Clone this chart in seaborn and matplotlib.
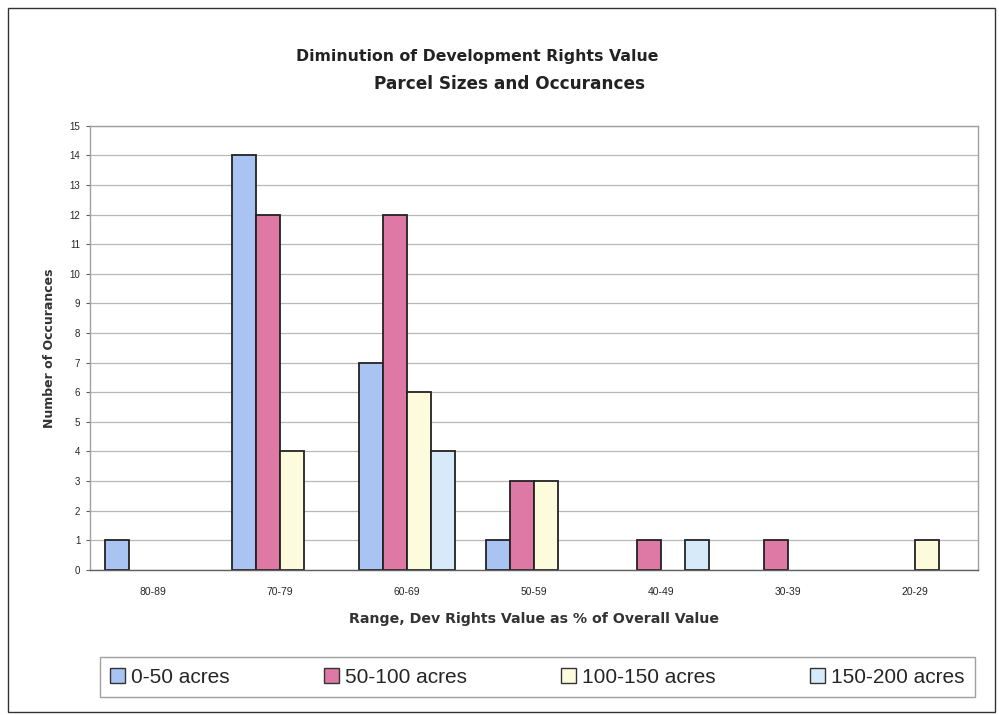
import matplotlib
matplotlib.use("Agg")
import matplotlib.pyplot as plt
import matplotlib.patches as patches
import seaborn as sns
import pandas as pd

ranges = ['80-89', '70-79', '60-69', '50-59', '40-49', '30-39', '20-29']
sizes = ['0-50 acres', '50-100 acres', '100-150 acres', '150-200 acres']
acres_0_50 = [1, 14, 7, 1, 0, 0, 0]
acres_50_100 = [0, 12, 12, 3, 1, 1, 0]
acres_100_150 = [0, 4, 6, 3, 0, 0, 1]
acres_150_200 = [0, 0, 4, 0, 1, 0, 0]
colors = ['#a9c3f2', '#de78a4', '#fcfbdc', '#d6eafa']

rows = []
for s, vals in zip(sizes, [acres_0_50, acres_50_100, acres_100_150, acres_150_200]):
    for r, v in zip(ranges, vals):
        if v > 0:
            rows.append({'range': r, 'size': s, 'count': v})
df = pd.DataFrame(rows)

sns.set_style('white')
plt.rcParams['font.family'] = ['Liberation Sans', 'DejaVu Sans']

fig = plt.figure(figsize=(9.99, 7.15), dpi=100)
ax = fig.add_axes([0.090, 0.203, 0.889, 0.621])

sns.barplot(data=df, x='range', y='count', hue='size', order=ranges, hue_order=sizes,
            palette=colors, edgecolor='#222222', linewidth=1.3, width=0.76,
            saturation=1, ax=ax, legend=False)

ax.set_ylim(0, 15)
ax.set_yticks(range(0, 16))
ax.set_xlim(-0.5, 6.5)
ax.yaxis.grid(True, color='#b8b8b8', linewidth=0.9)
ax.set_axisbelow(True)
for sp in ax.spines.values():
    sp.set_color('#a0a0a0')
    sp.set_linewidth(1)
ax.spines['bottom'].set_color('#606060')
ax.tick_params(axis='y', labelsize=7, length=3, left=True, color='#606060', pad=4)
ax.tick_params(axis='x', labelsize=7.5, length=0, pad=12)
ax.set_xlabel('Range, Dev Rights Value as % of Overall Value', fontsize=10.2,
              fontweight='bold', family='DejaVu Sans', color='#333333', labelpad=11)
ax.set_ylabel('Number of Occurances', fontsize=9, fontweight='bold',
              family='DejaVu Sans', color='#333333', labelpad=10)

fig.text(0.478, 0.921, 'Diminution of Development Rights Value', ha='center', va='center',
         fontsize=11.3, fontweight='bold', family='DejaVu Sans', color='#222222')
fig.text(0.510, 0.882, 'Parcel Sizes and Occurances', ha='center', va='center',
         fontsize=12.2, fontweight='bold', family='DejaVu Sans', color='#222222')

handles = [patches.Patch(facecolor=c, edgecolor='#333333', linewidth=1) for c in colors]
leg = fig.legend(handles, sizes, loc='center', ncol=4, mode='expand',
                 bbox_to_anchor=(0.100, 0.021, 0.876, 0.064),
                 fontsize=15, frameon=True, fancybox=False, edgecolor='#888888',
                 handlelength=0.7, handleheight=0.7, handletextpad=0.3,
                 borderpad=0.5, borderaxespad=0)
leg.get_frame().set_linewidth(1)

fig.patches.append(patches.Rectangle((0.008, 0.004), 0.988, 0.985, transform=fig.transFigure,
                                     fill=False, edgecolor='#333333', linewidth=1))

fig.savefig('out.png', dpi=100)
